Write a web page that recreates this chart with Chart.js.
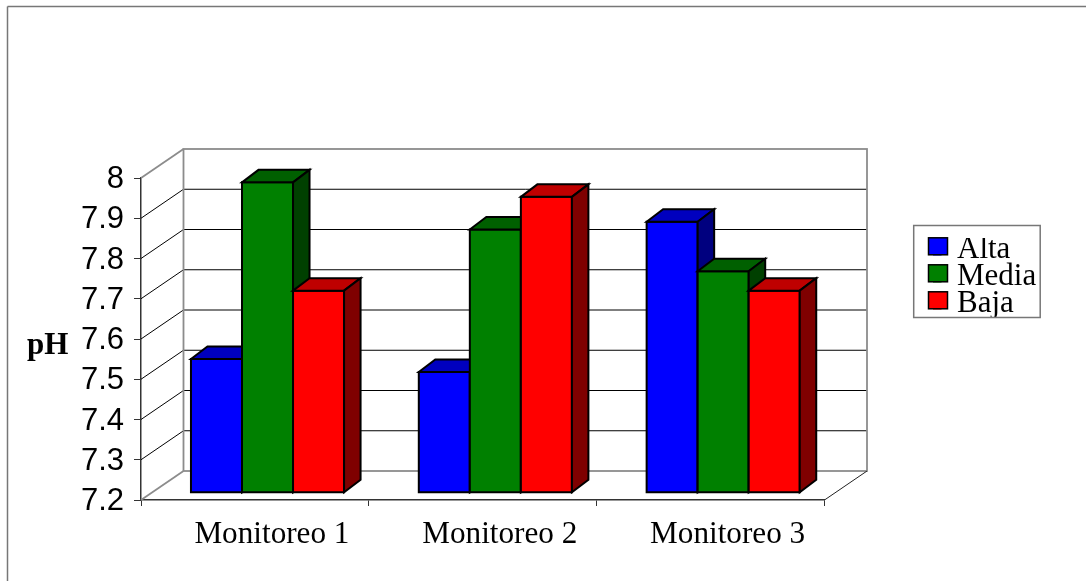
<!DOCTYPE html>
<html>
<head>
<meta charset="utf-8">
<title>pH</title>
<script src="https://cdn.jsdelivr.net/npm/chart.js@4"></script>
<style>
  html, body { margin: 0; padding: 0; background: #fff; }
  canvas { display: block; }
</style>
</head>
<body>
<canvas id="chart" width="1086" height="581"></canvas>
<script>
const categories = ["Monitoreo 1", "Monitoreo 2", "Monitoreo 3"];
const alta = [7.532, 7.50, 7.873];
const media = [7.971, 7.854, 7.75];
const baja = [7.702, 7.935, 7.702];
const yTickLabels = ["7.2", "7.3", "7.4", "7.5", "7.6", "7.7", "7.8", "7.9", "8"];
const yAxisTitle = "pH";

// front, top and side colour of each series
const faces = [
  { name: "Alta", front: "#0000ff", top: "#0000bf", side: "#00007f" },
  { name: "Media", front: "#008000", top: "#006000", side: "#004000" },
  { name: "Baja", front: "#ff0000", top: "#bf0000", side: "#7f0000" }
];

// the back wall sits behind the axes, the bars a bit in front of it
const wallDx = 42.5, wallDy = -29;
const barDx = 12.6, barDy = -7.3;
const barDepthX = 16.5, barDepthY = -12.5;

function poly(ctx, pts, fill) {
  ctx.beginPath();
  pts.forEach((p, i) => i ? ctx.lineTo(p[0], p[1]) : ctx.moveTo(p[0], p[1]));
  ctx.closePath();
  if (fill) { ctx.fillStyle = fill; ctx.fill(); }
  ctx.stroke();
}

function line(ctx, x1, y1, x2, y2, color, width) {
  ctx.strokeStyle = color;
  ctx.lineWidth = width;
  ctx.beginPath();
  ctx.moveTo(x1, y1);
  ctx.lineTo(x2, y2);
  ctx.stroke();
}

function drawWalls(chart) {
  const ctx = chart.ctx, y = chart.scales.y, a = chart.chartArea;
  // gridlines on the side and back walls
  y.ticks.forEach((t, i) => {
    if (i === 0 || i === y.ticks.length - 1) return;
    const py = y.getPixelForValue(t.value);
    line(ctx, a.left, py, a.left + wallDx, py + wallDy, "#000", 1);
    line(ctx, a.left + wallDx, py + wallDy, a.right + wallDx, py + wallDy, "#000", 1);
  });
  const x0 = a.left + wallDx, x1 = a.right + wallDx;
  const y0 = a.top + wallDy, y1 = a.bottom + wallDy;
  ctx.strokeStyle = "#8c8c8c";
  ctx.lineWidth = 1.8;
  ctx.strokeRect(x0, y0, x1 - x0, y1 - y0);
  line(ctx, a.left, a.top, x0, y0, "#8c8c8c", 1.8);
  line(ctx, a.left, a.bottom, x0, y1, "#8c8c8c", 1.8);
  line(ctx, a.right, a.bottom, x1, y1, "#222", 1);
}

const box3d = {
  id: "box3d",
  beforeDraw(chart) {
    const ctx = chart.ctx;
    // outer frame, open on the right and at the bottom
    ctx.save();
    line(ctx, 7.5, 6.5, 1086, 6.5, "#777", 1.5);
    line(ctx, 7.5, 6.5, 7.5, 581, "#777", 1.5);
    ctx.restore();
  },
  afterLayout(chart) {
    // the legend floats right of the plot
    const l = chart.legend;
    l.left = 933; l.right = 1040; l.top = 238; l.bottom = 318;
    l.width = 107; l.height = 80;
  },
  beforeDatasetsDraw(chart) {
    const ctx = chart.ctx;
    ctx.save();
    drawWalls(chart);
    // the library paints the last dataset first, here the left bar has to go first
    ctx.translate(barDx, barDy);
    ctx.strokeStyle = "#000";
    ctx.lineWidth = 2;
    chart.getSortedVisibleDatasetMetas().forEach((meta, i) => {
      const f = faces[i];
      meta.controller.draw();
      meta.data.forEach(bar => {
        const l = bar.x - bar.width / 2, r = bar.x + bar.width / 2;
        const dx = barDepthX, dy = barDepthY;
        poly(ctx, [[l, bar.y], [r, bar.y], [r, bar.base], [l, bar.base]]);
        poly(ctx, [[l, bar.y], [l + dx, bar.y + dy], [r + dx, bar.y + dy], [r, bar.y]], f.top);
        poly(ctx, [[r, bar.y], [r + dx, bar.y + dy], [r + dx, bar.base + dy], [r, bar.base]], f.side);
      });
    });
    ctx.restore();
    return false;
  },
  afterDraw(chart) {
    const ctx = chart.ctx, l = chart.legend;
    ctx.save();
    // legend frame and wider swatches on top of the library's ones
    ctx.strokeStyle = "#777";
    ctx.lineWidth = 1.5;
    ctx.strokeRect(913.7, 225.5, 126.5, 92);
    ctx.strokeStyle = "#000";
    l.legendHitBoxes.forEach((b, i) => {
      ctx.fillStyle = faces[i].front;
      ctx.fillRect(928.5, 237.8 + i * 27, 19, 17);
      ctx.strokeRect(928.5, 237.8 + i * 27, 19, 17);
    });
    // axis title stays horizontal, the library would rotate it
    ctx.fillStyle = "#000";
    ctx.font = "bold 31px 'Liberation Serif'";
    ctx.textBaseline = "alphabetic";
    ctx.fillText(yAxisTitle, 27, 354);
    ctx.restore();
  }
};

new Chart(document.getElementById("chart"), {
  type: "bar",
  data: {
    labels: categories,
    datasets: [alta, media, baja].map((values, i) => ({
      label: faces[i].name,
      data: values,
      base: 7.2,
      backgroundColor: faces[i].front,
      borderWidth: 0,
      inflateAmount: 0,
      categoryPercentage: 0.672,
      barPercentage: 1
    }))
  },
  plugins: [box3d],
  options: {
    responsive: false,
    animation: false,
    events: [],
    layout: { padding: { left: 0, top: 178, right: 261.5, bottom: 0 } },
    plugins: {
      tooltip: { enabled: false },
      title: { display: false },
      legend: {
        position: "chartArea",
        align: "start",
        labels: {
          color: "#000",
          font: { family: "'Liberation Serif'", size: 31 },
          boxWidth: 12.5,
          boxHeight: 12,
          padding: -4
        }
      }
    },
    scales: {
      x: {
        afterFit: s => { s.height = 81; },
        border: { color: "#333", width: 1.5 },
        grid: { offset: true, drawOnChartArea: false, color: "#333", tickLength: 6, tickWidth: 1 },
        ticks: {
          color: "#000",
          font: { family: "'Liberation Serif'", size: 31.2 },
          labelOffset: 17,
          padding: 10,
          maxRotation: 0
        }
      },
      y: {
        min: 7.2,
        max: 8,
        afterFit: s => { s.width = 141; },
        border: { color: "#333", width: 1.5 },
        grid: { drawOnChartArea: false, color: "#333", tickLength: 7, tickWidth: 1 },
        ticks: {
          stepSize: 0.1,
          color: "#000",
          font: { family: "'Liberation Sans'", size: 31 },
          padding: 10,
          labelOffset: 1.5,
          callback: (v, i) => yTickLabels[i]
        }
      }
    }
  }
});
</script>
</body>
</html>
